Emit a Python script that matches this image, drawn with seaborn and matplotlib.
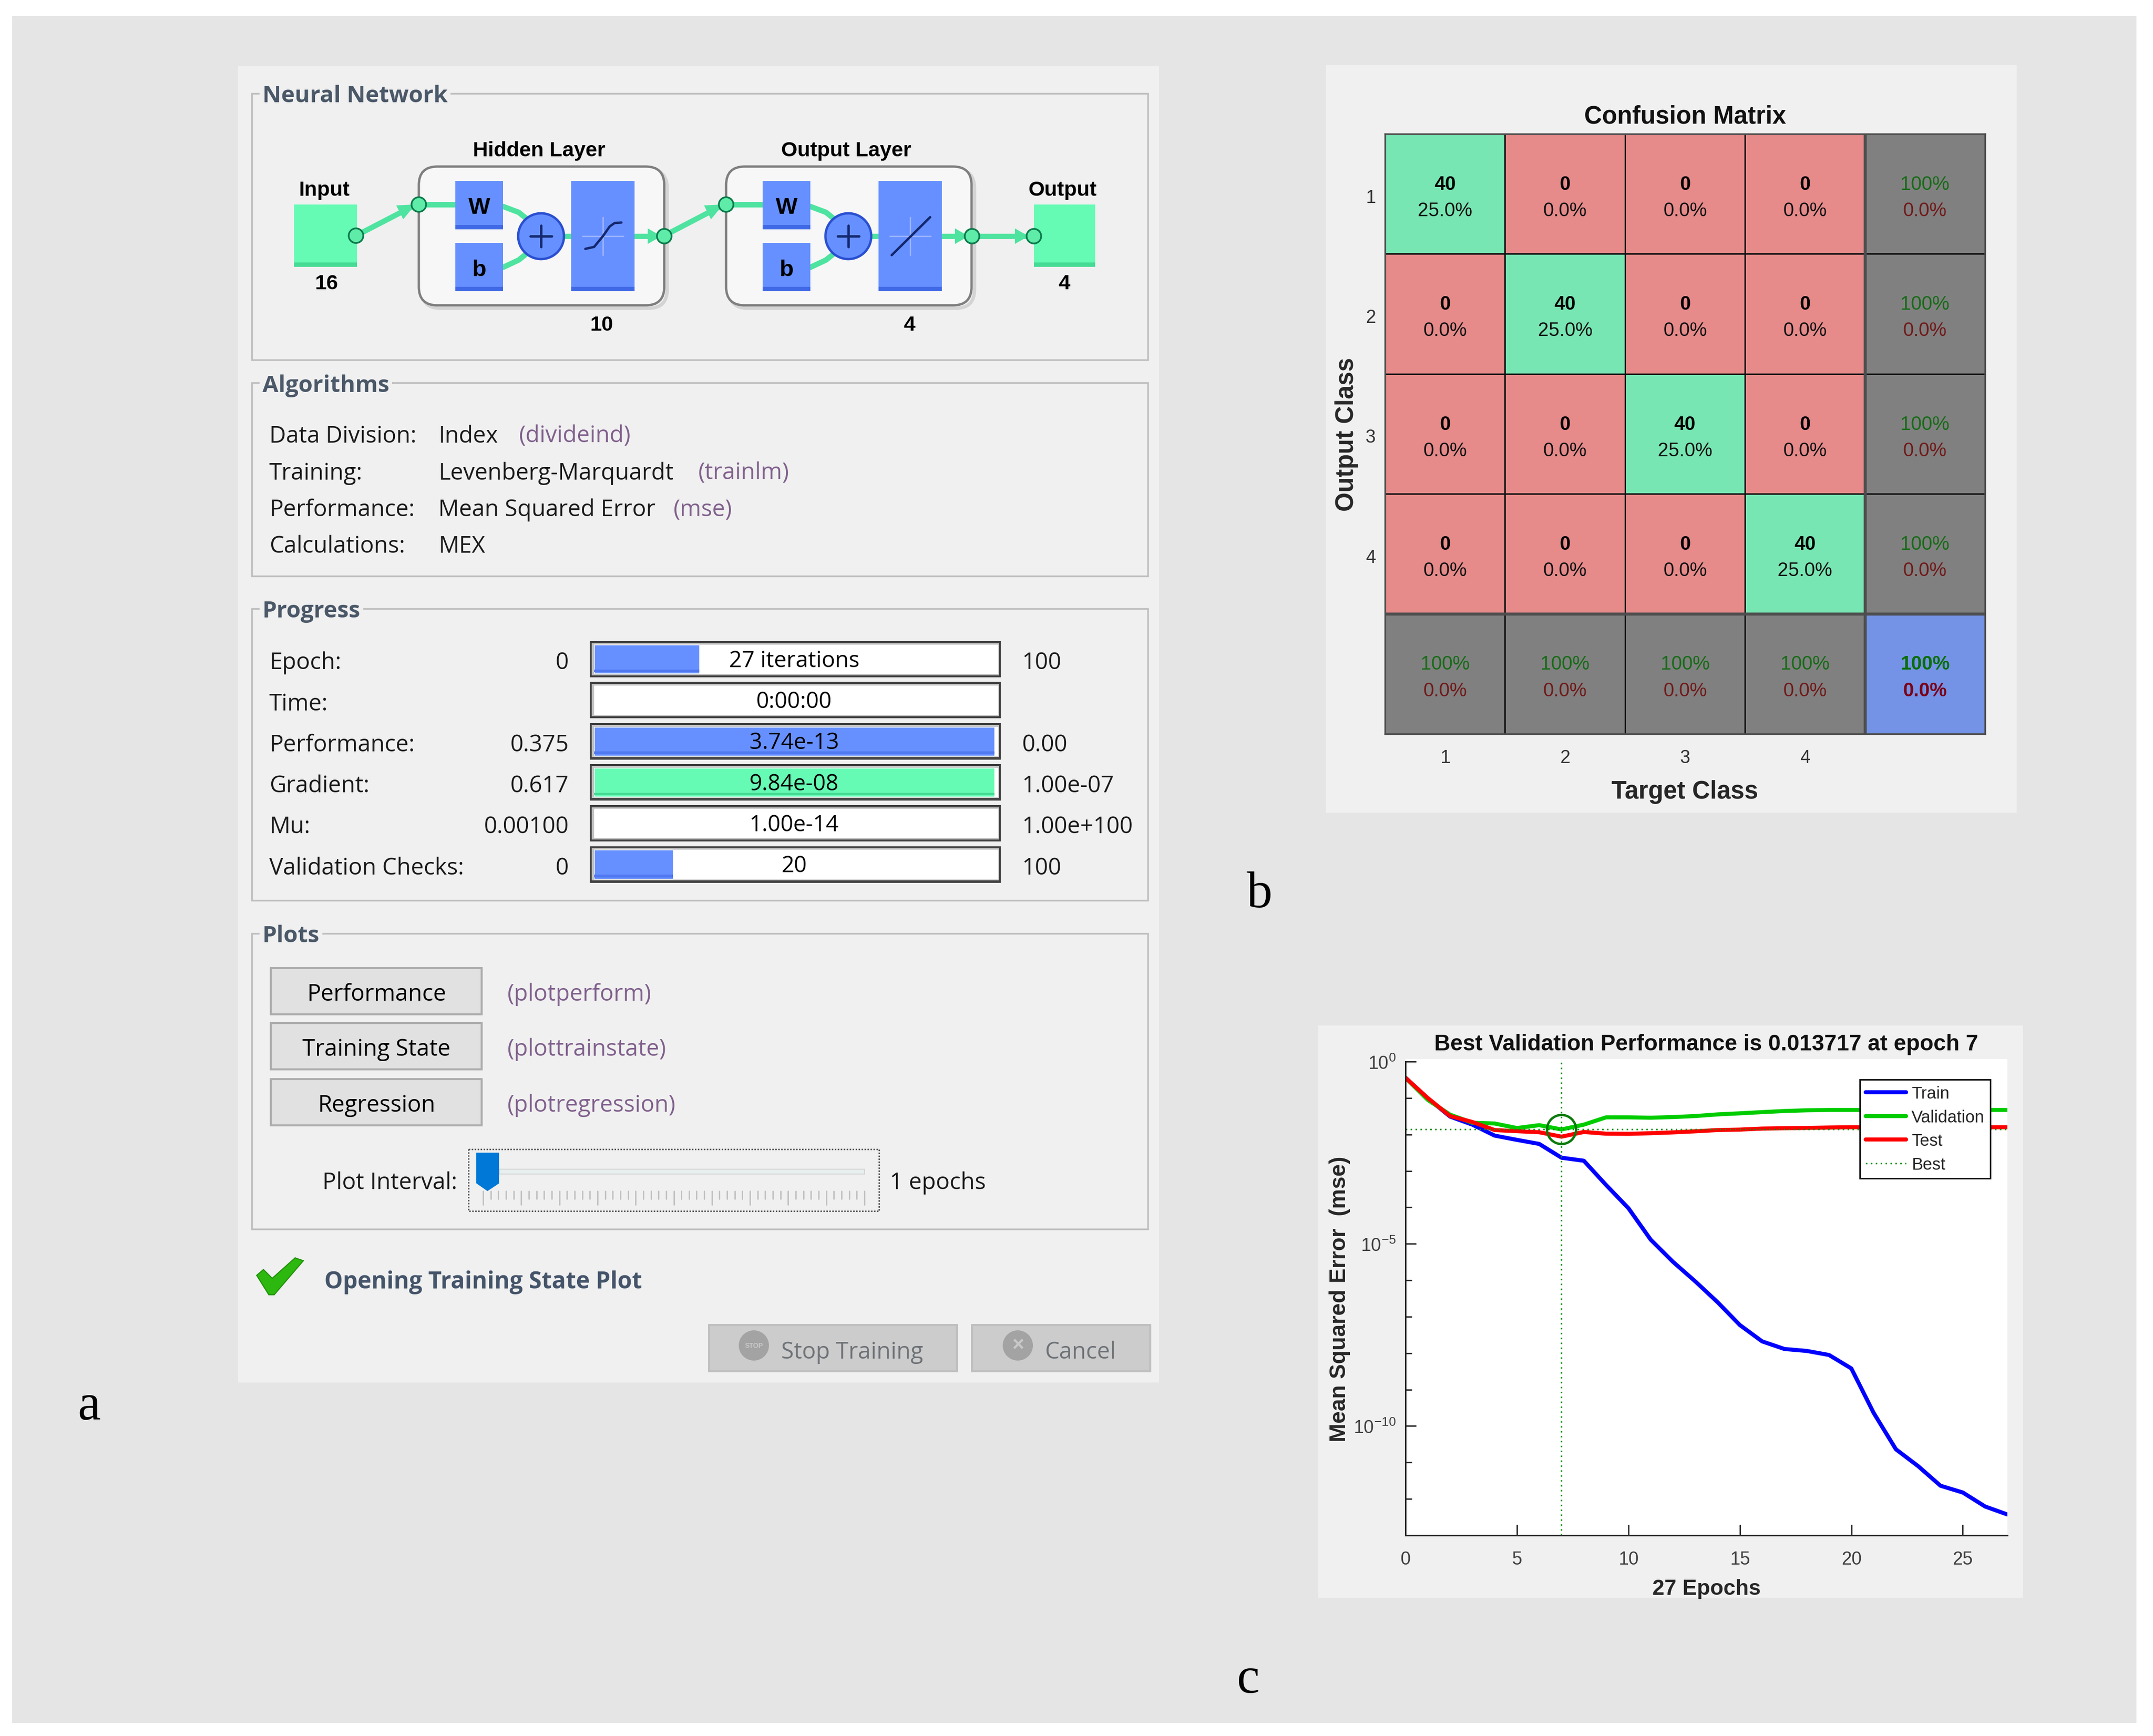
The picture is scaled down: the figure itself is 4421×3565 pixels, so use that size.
"""Training window screenshot, confusion matrix and performance curve (panels a, b, c)."""
import matplotlib
matplotlib.use("Agg")
import matplotlib.pyplot as plt
import numpy as np
import seaborn as sns
from matplotlib.colors import ListedColormap
from matplotlib.patches import Circle, FancyBboxPatch, Polygon, Rectangle
from matplotlib.ticker import NullFormatter

# ---------------------------------------------------------------------------
# Data
# ---------------------------------------------------------------------------
EPOCHS = list(range(28))
TRAIN = [0.36, 0.098, 0.031, 0.0186, 0.0093, 0.0071, 0.0055, 0.0023, 0.0019, 4.1e-4,
         9.5e-5, 1.3e-5, 3.2e-6, 9.3e-7, 2.5e-7, 5.9e-8, 2.1e-8, 1.3e-8, 1.15e-8, 8.9e-9,
         3.8e-9, 2.3e-10, 2.3e-11, 7.9e-12, 2.3e-12, 1.5e-12, 6.2e-13, 3.74e-13]
VALIDATION = [0.36, 0.089, 0.035, 0.021, 0.020, 0.015, 0.018, 0.013717, 0.0186, 0.0295,
              0.0295, 0.0288, 0.030, 0.032, 0.0355, 0.038, 0.041, 0.044, 0.046, 0.047,
              0.047, 0.047, 0.047, 0.047, 0.047, 0.047, 0.047, 0.047]
TEST = [0.36, 0.1, 0.032, 0.022, 0.0132, 0.0123, 0.0115, 0.0087, 0.0117, 0.0105,
        0.0104, 0.0108, 0.0114, 0.0122, 0.0132, 0.0136, 0.0145, 0.0148, 0.0151, 0.0155,
        0.0158, 0.0158, 0.0158, 0.0158, 0.0158, 0.0158, 0.0158, 0.0158]
BEST_EPOCH = 7
BEST_VALUE = 0.013717

CONF_COUNTS = [[40, 0, 0, 0], [0, 40, 0, 0], [0, 0, 40, 0], [0, 0, 0, 40]]
CONF_SHARE = [["25.0%", "0.0%", "0.0%", "0.0%"],
              ["0.0%", "25.0%", "0.0%", "0.0%"],
              ["0.0%", "0.0%", "25.0%", "0.0%"],
              ["0.0%", "0.0%", "0.0%", "25.0%"]]
CONF_KIND = [[0, 1, 1, 1, 2], [1, 0, 1, 1, 2], [1, 1, 0, 1, 2], [1, 1, 1, 0, 2], [2, 2, 2, 2, 3]]
CLASS_TICKS = ["1", "2", "3", "4", ""]
SUMMARY_GOOD = "100%"
SUMMARY_BAD = "0.0%"

ALGO_ROWS = ["Data Division:", "Training:", "Performance:", "Calculations:"]
ALGO_VALUES = ["Index", "Levenberg-Marquardt", "Mean Squared Error", "MEX"]
ALGO_FUNCS = ["(divideind)", "(trainlm)", "(mse)", ""]

PROGRESS_ROWS = ["Epoch:", "Time:", "Performance:", "Gradient:", "Mu:", "Validation Checks:"]
PROGRESS_MIN = ["0", "", "0.375", "0.617", "0.00100", "0"]
PROGRESS_TEXT = ["27 iterations", "0:00:00", "3.74e-13", "9.84e-08", "1.00e-14", "20"]
PROGRESS_MAX = ["100", "", "0.00", "1.00e-07", "1.00e+100", "100"]
PROGRESS_FILL = [26, 0, 99, 99, 0, 19.5]
PROGRESS_COLORS = ["#6690FF", "#6690FF", "#6690FF", "#66FBB4", "#6690FF", "#6690FF"]

PLOT_BUTTONS = ["Performance", "Training State", "Regression"]
PLOT_FUNCS = ["(plotperform)", "(plottrainstate)", "(plotregression)"]

# ---------------------------------------------------------------------------
# Style
# ---------------------------------------------------------------------------
W, H = 4421, 3566
OUTER = "#E5E5E5"
PANEL = "#F0F0F0"
BLUE = "#6690FF"
BLUE_DARK = "#3F69E6"
GREEN = "#66FBB4"
GREEN_DARK = "#45DB94"
WIRE = "#4FE3A0"
UI_FONT = "Open Sans"
MAT_FONT = "Liberation Sans"
SERIF_FONT = "Liberation Serif"

sns.set_theme(style="white")
plt.rcParams["font.family"] = [MAT_FONT, "DejaVu Sans"]
plt.rcParams["mathtext.fontset"] = "custom"
plt.rcParams["mathtext.rm"] = MAT_FONT
plt.rcParams["axes.unicode_minus"] = False

fig = plt.figure(figsize=(W / 100, H / 100), dpi=100, facecolor="white")


def px_axes(left, top, right, bottom, **kw):
    return fig.add_axes([left / W, 1 - bottom / H, (right - left) / W, (bottom - top) / H], **kw)


gui = fig.add_axes([0, 0, 1, 1], zorder=0)
gui.set_xlim(0, W)
gui.set_ylim(H, 0)
gui.axis("off")


def rect(x0, y0, x1, y1, fc="none", ec="none", lw=0.0, z=1, **kw):
    gui.add_patch(Rectangle((x0, y0), x1 - x0, y1 - y0, facecolor=fc, edgecolor=ec, linewidth=lw, zorder=z, **kw))


def label(x, y, s, size=34, color="#1A1A1A", ha="left", weight="normal", family=UI_FONT, **kw):
    # va=center sits a little high for these fonts
    y += {UI_FONT: 5, MAT_FONT: 3, SERIF_FONT: 8}[family]
    gui.text(x, y, s, fontsize=size, color=color, ha=ha, va="center", fontweight=weight, family=family, zorder=6, **kw)


def group_box(x0, y0, x1, y1, title):
    rect(x0, y0, x1, y1, ec="#BEBEBE", lw=2.5, z=1)
    label(x0 + 22, y0, title, size=34, color="#4A5868", weight="bold",
          bbox=dict(facecolor=PANEL, edgecolor="none", pad=4))


# ---------------------------------------------------------------------------
# Backgrounds and panel letters
# ---------------------------------------------------------------------------
rect(25, 34, 4387, 3539, fc=OUTER, z=0)
rect(489, 137, 2380, 2840, fc=PANEL, z=0.5)
rect(2723, 135, 4141, 1670, fc=PANEL, z=0.5)
rect(2707, 2107, 4154, 3282, fc=PANEL, z=0.5)
for x, y, s in [(183, 2882, "a"), (2586, 1830, "b"), (2563, 3443, "c")]:
    label(x, y, s, size=76, color="black", ha="center", family=SERIF_FONT)

# ---------------------------------------------------------------------------
# a: network diagram
# ---------------------------------------------------------------------------
group_box(517, 193, 2357, 740, "Neural Network")


def block(x0, y0, x1, y1, fc=BLUE, dark=BLUE_DARK):
    rect(x0, y0, x1, y1, fc=fc, z=3)
    rect(x0, y1 - 9, x1, y1, fc=dark, z=3.1)


def node(x, y):
    gui.add_patch(Circle((x, y), 15, facecolor="#5FEBA8", edgecolor="#0B7A4B", linewidth=2.5, zorder=5))


def wire(xs, ys):
    gui.plot(xs, ys, color=WIRE, lw=8, solid_capstyle="round", zorder=2)


def arrow_head(x, y, dx, dy, size=28):
    # small triangle ending at (x, y), pointing along (dx, dy)
    n = np.hypot(dx, dy)
    ux, uy = dx / n, dy / n
    gui.add_patch(Polygon([(x, y), (x - size * ux - 16 * uy, y - size * uy + 16 * ux),
                           (x - size * ux + 16 * uy, y - size * uy - 16 * ux)],
                          facecolor=WIRE, edgecolor="none", zorder=2.5))


for bx, title, num, numx in [(860, "Hidden Layer", "10", 1235), (1491, "Output Layer", "4", 1867)]:
    gui.add_patch(FancyBboxPatch((bx + 6, 349), 504, 285, boxstyle="round,pad=0,rounding_size=38",
                                 facecolor="none", edgecolor="#D4D4D4", linewidth=5, zorder=1.5))
    gui.add_patch(FancyBboxPatch((bx, 343), 504, 285, boxstyle="round,pad=0,rounding_size=38",
                                 facecolor="#F7F7F7", edgecolor="#7F7F7F", linewidth=3.5, zorder=1.6))
    block(bx + 75, 373, bx + 173, 472)
    block(bx + 75, 500, bx + 173, 599)
    block(bx + 313, 373, bx + 443, 599)
    wire([bx, bx + 80], [421, 421])
    wire([bx + 173, bx + 205, bx + 240], [425, 437, 465])
    wire([bx + 173, bx + 205, bx + 240], [550, 535, 507])
    wire([bx + 290, bx + 320], [486, 486])
    gui.add_patch(Circle((bx + 251, 486), 47, facecolor=BLUE, edgecolor="#2A4FD0", linewidth=3.5, zorder=4))
    gui.plot([bx + 229, bx + 273], [486, 486], color="#14286E", lw=3.5, zorder=5)
    gui.plot([bx + 251, bx + 251], [464, 508], color="#14286E", lw=3.5, zorder=5)
    label(bx + 124, 424, "W", size=34, color="black", ha="center", weight="bold", family=MAT_FONT)
    label(bx + 124, 552, "b", size=34, color="black", ha="center", weight="bold", family=MAT_FONT)
    gui.plot([bx + 336, bx + 420], [486, 486], color="#9DB6FF", lw=2, zorder=4)
    gui.plot([bx + 378, bx + 378], [447, 525], color="#9DB6FF", lw=2, zorder=4)
    # arrow into the next stage
    wire([bx + 443, bx + 500], [486, 486])
    arrow_head(bx + 498, 486, 1, 0)
    label(bx + 247, 307, title, size=31, color="black", ha="center", weight="bold", family=MAT_FONT)
    label(numx, 665, num, size=31, color="black", ha="center", weight="bold", family=MAT_FONT)

# transfer function glyphs
gui.plot([1202, 1220, 1238, 1252, 1262, 1276], [512, 508, 486, 466, 459, 458], color="#14286E", lw=3.5, zorder=5)
gui.plot([1831, 1910], [525, 447], color="#14286E", lw=3.5, zorder=5)

block(604, 421, 733, 549, fc=GREEN, dark=GREEN_DARK)
block(2123, 421, 2249, 549, fc=GREEN, dark=GREEN_DARK)
for x0, x1 in [(731, 858), (1364, 1490)]:
    wire([x0, x1 - 15], [485, 427])
    arrow_head(x1 - 5, 421, 1, -0.5, size=36)
wire([1996, 2115], [486, 486])
arrow_head(2112, 486, 1, 0)
for x, y in [(731, 485), (860, 421), (1364, 486), (1491, 421), (1996, 486), (2123, 486)]:
    node(x, y)
for x, y, s in [(666, 388, "Input"), (670, 580, "16"), (2182, 388, "Output"), (2185, 580, "4")]:
    label(x, y, s, size=31, color="black", ha="center", weight="bold", family=MAT_FONT)

# ---------------------------------------------------------------------------
# a: algorithms
# ---------------------------------------------------------------------------
group_box(517, 787, 2357, 1184, "Algorithms")
ALGO_Y = [891, 967, 1042, 1117]
ALGO_FUNC_X = [1065, 1433, 1382, 1382]
for y, name, val, func, fx in zip(ALGO_Y, ALGO_ROWS, ALGO_VALUES, ALGO_FUNCS, ALGO_FUNC_X):
    label(553, y, name)
    label(900, y, val)
    label(fx, y, func, color="#80608C")

# ---------------------------------------------------------------------------
# a: progress rows, bars go through seaborn
# ---------------------------------------------------------------------------
group_box(517, 1251, 2357, 1850, "Progress")
ROW_PITCH = 84.3
for i, (name, lo, hi) in enumerate(zip(PROGRESS_ROWS, PROGRESS_MIN, PROGRESS_MAX)):
    y = 1354.5 + i * ROW_PITCH
    label(553, y + 2, name)
    label(1168, y + 2, lo, ha="right")
    label(2099, y + 2, hi)
    rect(1211, y - 37.5, 2055, y + 37.5, fc="#404040", z=2)
    rect(1215, y - 33, 2051, y + 33, fc="#C4C4C4", z=2.1)

bars = px_axes(1220, 1354.5 - ROW_PITCH / 2, 2050, 1354.5 + 5.5 * ROW_PITCH, zorder=3)
bars.patch.set_alpha(0)
sns.barplot(x=[100] * len(PROGRESS_ROWS), y=PROGRESS_ROWS, color="white", saturation=1, width=0.7, ax=bars)
n_back = len(bars.patches)
sns.barplot(x=PROGRESS_FILL, y=PROGRESS_ROWS, hue=PROGRESS_ROWS, palette=PROGRESS_COLORS, saturation=1,
            width=0.7, legend=False, dodge=False, ax=bars)
for p, col in zip(bars.patches[n_back:], PROGRESS_COLORS):
    if p.get_width() > 0:
        bars.add_patch(Rectangle((p.get_x(), p.get_y() + p.get_height() * 0.86), p.get_width(),
                                 p.get_height() * 0.09,
                                 facecolor=GREEN_DARK if col == GREEN else "#5078F0", edgecolor="none"))
for i, txt in enumerate(PROGRESS_TEXT):
    bars.text(49.5, i + 0.04, txt, fontsize=33, color="black", ha="center", va="center", family=UI_FONT)
bars.set_xlim(0, 100)
bars.axis("off")

# ---------------------------------------------------------------------------
# a: plot buttons, slider, status and bottom buttons
# ---------------------------------------------------------------------------
group_box(517, 1918, 2357, 2525, "Plots")
for y0, name, func in zip([1989, 2102, 2217], PLOT_BUTTONS, PLOT_FUNCS):
    rect(556, y0, 989, y0 + 95, fc="#E1E1E1", ec="#ADADAD", lw=3)
    label(773, y0 + 48, name, ha="center", color="black")
    label(1041, y0 + 48, func, color="#80608C")

label(939, 2424, "Plot Interval:", ha="right")
label(1827, 2424, "1 epochs")
rect(962, 2361, 1805, 2488, ec="#555555", lw=2.2, linestyle=(0, (1, 1)))
rect(1025, 2402, 1775, 2412, fc="#E7EEEE", ec="#D6D6D6", lw=1.5)
for k in range(51):
    x = 992 + k * (1775 - 992) / 50
    gui.plot([x, x], [2447, 2475 if k % 5 == 0 else 2463], color="#BFBFBF", lw=2, zorder=2)
gui.add_patch(Polygon([(978, 2368), (1025, 2368), (1025, 2431), (1001, 2447), (978, 2431)],
                      facecolor="#0078D7", edgecolor="none", zorder=4))

gui.add_patch(Polygon([(527, 2620), (541, 2608), (559, 2626), (606, 2584), (623, 2590), (563, 2660), (552, 2660)],
                      facecolor="#2CB80E", edgecolor="#1F8F08", linewidth=1.5, zorder=4))
label(666, 2629, "Opening Training State Plot", color="#44546A", weight="bold", size=34.5)

for x0, x1, icon_x, text_x, name, glyph, gsize in [(1456, 1965, 1548, 1604, "Stop Training", "STOP", 10),
                                                   (1996, 2362, 2090, 2145, "Cancel", "×", 30)]:
    rect(x0, 2722, x1, 2817, fc="#CCCCCC", ec="#BFBFBF", lw=3)
    gui.add_patch(Circle((icon_x, 2764), 31, facecolor="#A3A3A3", edgecolor="none", zorder=4))
    gui.text(icon_x, 2764, glyph, fontsize=gsize, color="#C8C8C8", ha="center", va="center", fontweight="bold", zorder=5)
    label(text_x, 2772, name, color="#6E7378")

# ---------------------------------------------------------------------------
# b: confusion matrix
# ---------------------------------------------------------------------------
conf = px_axes(2844, 276, 4076, 1508, zorder=2)
sns.heatmap(np.array(CONF_KIND), cmap=ListedColormap(["#78E6B3", "#E68A8A", "#808080", "#7493E6"]),
            vmin=0, vmax=3, cbar=False, linewidths=1.8, linecolor="#111111",
            xticklabels=CLASS_TICKS, yticklabels=CLASS_TICKS, ax=conf)
for r in range(5):
    for c in range(5):
        if r < 4 and c < 4:
            conf.text(c + 0.5, r + 0.417, str(CONF_COUNTS[r][c]), ha="center", va="center",
                      fontsize=28.5, fontweight="bold", color="black")
            conf.text(c + 0.5, r + 0.637, CONF_SHARE[r][c], ha="center", va="center", fontsize=28.5, color="#111111")
        else:
            heavy = "bold" if r == 4 and c == 4 else "normal"
            conf.text(c + 0.5, r + 0.417, SUMMARY_GOOD, ha="center", va="center", fontsize=28.5,
                      fontweight=heavy, color="#0A6E0A" if heavy == "bold" else "#176B17")
            conf.text(c + 0.5, r + 0.637, SUMMARY_BAD, ha="center", va="center", fontsize=28.5,
                      fontweight=heavy, color="#7A0018" if heavy == "bold" else "#701A1A")
conf.axhline(4, color="#4D4D4D", lw=4.5)
conf.axvline(4, color="#4D4D4D", lw=4.5)
for side in conf.spines.values():
    side.set_visible(True)
    side.set_edgecolor("#4D4D4D")
    side.set_linewidth(2.5)
conf.set_yticks(np.arange(5) + 0.53)
conf.set_yticklabels(CLASS_TICKS)
conf.tick_params(axis="x", length=0, labelsize=27, labelcolor="#333333", pad=22, rotation=0)
conf.tick_params(axis="y", length=0, labelsize=27, labelcolor="#333333", pad=14, rotation=0)
conf.set_title("Confusion Matrix", fontsize=36.5, fontweight="bold", color="#111111", pad=16)
conf.set_xlabel("Target Class", fontsize=36.5, fontweight="bold", color="#262626", labelpad=20)
conf.set_ylabel("Output Class", fontsize=36.5, fontweight="bold", color="#262626", labelpad=10)

# ---------------------------------------------------------------------------
# c: performance curve
# ---------------------------------------------------------------------------
rect(2886, 2176, 4122, 3154, fc="white", z=0.8)
perf = px_axes(2886, 2181, 4122, 3154, zorder=2)
perf.patch.set_alpha(0)
sns.lineplot(x=EPOCHS, y=TRAIN, color="#0000FF", lw=6, label="Train", ax=perf)
sns.lineplot(x=EPOCHS, y=VALIDATION, color="#00CC00", lw=6, label="Validation", ax=perf)
sns.lineplot(x=EPOCHS, y=TEST, color="#FF0000", lw=6, label="Test", ax=perf)
perf.axhline(BEST_VALUE, color="#009000", lw=2.2, ls=(0, (1, 2.3)), label="Best")
perf.axvline(BEST_EPOCH, color="#009000", lw=2.2, ls=(0, (1, 2.3)))
perf.plot([BEST_EPOCH], [BEST_VALUE], marker="o", ms=43, mfc="none", mec="#0A7A0A", mew=3.5, clip_on=False)
perf.set_yscale("log")
perf.set_xlim(0, 27)
perf.set_ylim(1e-13, 1)
perf.set_xticks([0, 5, 10, 15, 20, 25])
perf.set_yticks([1, 1e-5, 1e-10])
perf.set_yticklabels([r"$\mathregular{10^{0}}$", r"$\mathregular{10^{-5}}$", r"$\mathregular{10^{-10}}$"])
perf.set_yticks([10.0 ** -k for k in range(14)], minor=True)
perf.yaxis.set_minor_formatter(NullFormatter())
sns.despine(ax=perf)
for side in ("left", "bottom"):
    perf.spines[side].set_color("#262626")
    perf.spines[side].set_linewidth(2.2)
perf.tick_params(axis="x", which="major", direction="in", length=16, width=2, color="#262626",
                 labelsize=27, labelcolor="#404040", bottom=True, pad=22)
perf.tick_params(axis="y", which="major", direction="in", length=16, width=2, color="#262626",
                 labelsize=27, labelcolor="#404040", left=True, pad=14)
perf.tick_params(axis="y", which="minor", direction="in", length=9, width=2, color="#262626", left=True)
perf.set_title("Best Validation Performance is 0.013717 at epoch 7", fontsize=33, fontweight="bold",
               color="#111111", pad=17, x=0.50)
perf.set_xlabel("27 Epochs", fontsize=32, fontweight="bold", color="#262626", labelpad=16)
perf.set_ylabel("Mean Squared Error  (mse)", fontsize=33, fontweight="bold", color="#262626", labelpad=4)
leg = perf.legend(loc="upper left", bbox_to_anchor=((3819 - 2886) / 1236, 1 - (2218 - 2181) / 973),
                  fontsize=25, frameon=True, fancybox=False, framealpha=1, edgecolor="#111111",
                  borderaxespad=0, handlelength=2.4, labelspacing=0.45, handletextpad=0.3, borderpad=0.35)
leg.get_frame().set_linewidth(2.2)
for t in leg.get_texts():
    t.set_color("#262626")

fig.savefig("out.png", dpi=100, facecolor="white")
plt.close(fig)
